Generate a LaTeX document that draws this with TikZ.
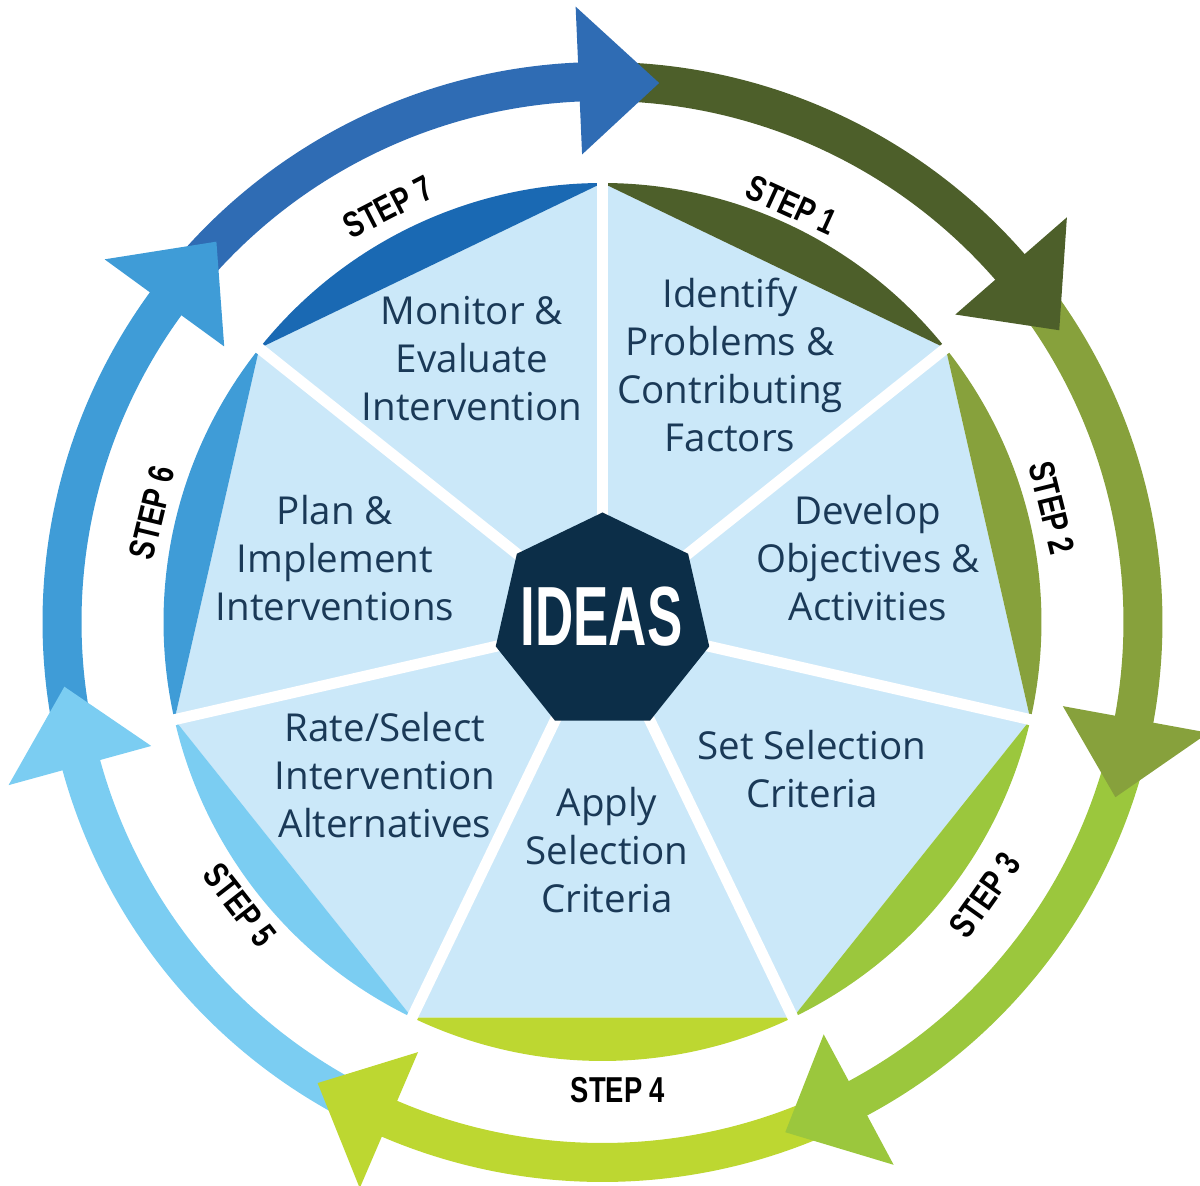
\documentclass[tikz,border=0pt]{standalone}
\usepackage{fontspec}
\usepackage{graphicx}
\setmainfont{Open Sans}
\newfontfamily\stepfont{Liberation Sans}
\usetikzlibrary{shapes.geometric}
\definecolor{cA}{HTML}{4D5F2A}
\definecolor{cB}{HTML}{87A13C}
\definecolor{cC}{HTML}{9BC73D}
\definecolor{cD}{HTML}{BDD731}
\definecolor{cE}{HTML}{7BCDF2}
\definecolor{cF}{HTML}{3F9CD7}
\definecolor{cG}{HTML}{2F6CB4}
\definecolor{lG}{HTML}{1A69B3}
\definecolor{paleblue}{HTML}{CBE8F9}
\definecolor{hubnavy}{HTML}{0C2E48}
\definecolor{textnavy}{HTML}{1A3957}
\tikzset{
  seglabel/.style={text=textnavy, align=center, inner sep=0pt,
    font=\fontsize{38.5}{48}\selectfont},
  steplabel/.style={inner sep=0pt, text=black},
  separator/.style={draw=white, line width=11pt},
}
\newcommand{\steptxt}[1]{\scalebox{0.76}[1]{\stepfont\bfseries\fontsize{36}{36}\selectfont #1}}
\begin{document}
\begin{tikzpicture}[x=1pt,y=1pt]
\useasboundingbox (-602.5,-564) rectangle (597.5,622);
% ---------- outer ring: shafts ----------
\foreach \tip/\prev/\col in {32.57/84/cA, -18.86/32.57/cB, -70.29/-18.86/cC, -121.71/-70.29/cD, -173.14/-121.71/cE, -224.57/-173.14/cF, -276/-224.57/cG}{
  \pgfmathsetmacro\sa{\prev+3}
  \pgfmathsetmacro\ea{\tip+7}
  \fill[\col] (\sa:560) arc[start angle=\sa, end angle=\ea, radius=560]
    -- (\ea:521) arc[start angle=\ea, end angle=\sa, radius=521] -- cycle;
}
% ---------- outer ring: heads ----------
\foreach \tip/\col in {32.57/cA, -18.86/cB, -70.29/cC, -121.71/cD, -173.14/cE, -224.57/cF, -276/cG}{
  \pgfmathsetmacro\ba{\tip+8.5}
  \fill[\col] (\ba:468) -- (\ba:616) -- (\tip:542) -- cycle;
}
% ---------- inner segments ----------
\foreach \k/\col in {1/cA, 2/cB, 3/cC, 4/cD, 5/cE, 6/cF, 7/lG}{
  \pgfmathsetmacro\aa{90-51.428571*(\k-1)}
  \pgfmathsetmacro\ab{90-51.428571*\k}
  \fill[paleblue] (0,0) -- (\aa:439) -- (\ab:439) -- cycle;
  \fill[\col] (\aa:439) arc[start angle=\aa, end angle=\ab, radius=439] -- cycle;
}
\foreach \j in {0,...,6}{
  \draw[separator] (0,0) -- ({90-51.428571*\j}:442);
}
% ---------- hub ----------
\node[regular polygon, regular polygon sides=7, minimum size=219pt,
  inner sep=0pt, outer sep=0pt, fill=hubnavy] (hub) at (0,0) {};
\node[text=white, inner sep=0pt] (ideas) at (-1,5)
  {\scalebox{0.63}[1]{\stepfont\bfseries\fontsize{84}{84}\selectfont IDEAS}};
% ---------- segment texts ----------
\node[seglabel] (s1) at (127.5,257) {Identify\\Problems \&\\Contributing\\Factors};
\node[seglabel] (s2) at (265.5,64) {Develop\\Objectives \&\\Activities};
\node[seglabel] (s3) at (209.5,-147) {Set Selection\\Criteria};
\node[seglabel] (s4) at (4.5,-228) {Apply\\Selection\\Criteria};
\node[seglabel] (s5) at (-217.5,-153) {Rate/Select\\Intervention\\Alternatives};
\node[seglabel] (s6) at (-267.5,64) {Plan \&\\Implement\\Interventions};
\node[seglabel] (s7) at (-130.5,263) {Monitor \&\\Evaluate\\Intervention};
% ---------- step labels ----------
\node[steplabel, rotate=-24.5] (st1) at (189.5,417) {\steptxt{STEP 1}};
\node[steplabel, rotate=-76] (st2) at (449.5,114) {\steptxt{STEP 2}};
\node[steplabel, rotate=54.5] (st3) at (382.5,-273) {\steptxt{STEP 3}};
\node[steplabel, rotate=0] (st4) at (15.5,-468) {\steptxt{STEP 4}};
\node[steplabel, rotate=-52] (st5) at (-362.5,-283) {\steptxt{STEP 5}};
\node[steplabel, rotate=76.4] (st6) at (-450.5,109) {\steptxt{STEP 6}};
\node[steplabel, rotate=27.3] (st7) at (-214.5,415) {\steptxt{STEP 7}};
\end{tikzpicture}
\end{document}
